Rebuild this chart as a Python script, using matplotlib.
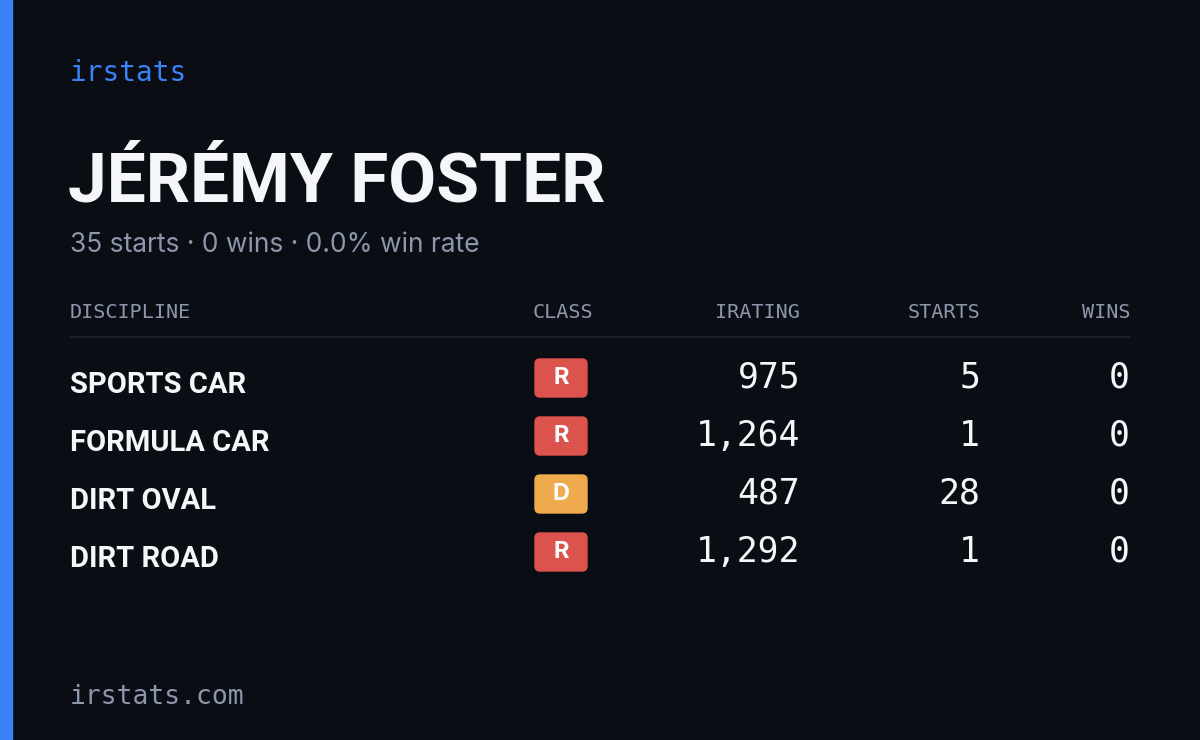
import matplotlib
matplotlib.use("Agg")
import matplotlib.pyplot as plt
from matplotlib.patches import FancyBboxPatch, Rectangle

name = "JÉRÉMY FOSTER"
subtitle = "35 starts · 0 wins · 0.0% win rate"
headers = ["DISCIPLINE", "CLASS", "IRATING", "STARTS", "WINS"]
disciplines = ["SPORTS CAR", "FORMULA CAR", "DIRT OVAL", "DIRT ROAD"]
classes = ["R", "R", "D", "R"]
iratings = [975, 1264, 487, 1292]
starts = [5, 1, 28, 1]
wins = [0, 0, 0, 0]

class_colors = {"R": "#dc524c", "D": "#eeaa4c"}
BG = "#0a0d14"
W, H = 1200, 740
fig = plt.figure(figsize=(12, 7.4), dpi=100, facecolor=BG)
ax = fig.add_axes([0, 0, 1, 1])
ax.set_xlim(0, W); ax.set_ylim(H, 0); ax.axis("off")
ax.set_facecolor(BG)
ax.add_patch(Rectangle((0, 0), 12, H, color="#3b82f6"))

mono = ["DejaVu Sans Mono"]
ax.text(70, 73, "irstats", color="#3b82f6", fontsize=20, family=mono, va="center")
ax.text(68, 183, name, color="#f5f6fa", fontsize=50, family=["Roboto"], fontweight="bold",
        va="center", stretch="condensed")
ax.text(70, 245, subtitle, color="#8c97ab", fontsize=19, family=["Inter", "DejaVu Sans"], va="center")

hy = 313
hx = [(70, "left"), (593, "right"), (800, "right"), (980, "right"), (1130, "right")]
for (x, ha), h in zip(hx, headers):
    ax.text(x, hy, h, color="#8c97ab", fontsize=14.5, family=mono, ha=ha, va="center")
ax.plot([70, 1130], [337, 337], color="#1f2430", lw=1.2)

for i, (d, c, ir, s, w) in enumerate(zip(disciplines, classes, iratings, starts, wins)):
    y = 378 + 58 * i
    ax.text(70, y + 7, d, color="#f5f6fa", fontsize=21, family=["Roboto"], fontweight="bold",
            va="center", stretch="condensed")
    ax.add_patch(FancyBboxPatch((535, y - 19), 52, 38, boxstyle="round,pad=0,rounding_size=5",
                                color=class_colors[c]))
    ax.text(561, y, c, color="white", fontsize=17, family=["Inter", "DejaVu Sans"],
            fontweight="bold", ha="center", va="center")
    for x, v in [(800, f"{ir:,}"), (980, str(s)), (1130, str(w))]:
        ax.text(x, y, v, color="#f5f6fa", fontsize=25, family=mono, ha="right", va="center")

ax.text(70, 697, "irstats.com", color="#8c97ab", fontsize=19, family=mono, va="center")
fig.savefig("out.png", dpi=100, facecolor=BG)
